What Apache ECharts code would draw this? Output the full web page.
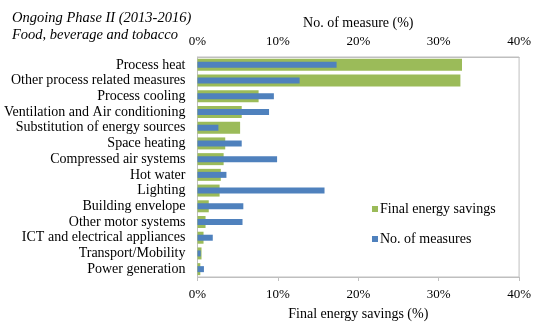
<!DOCTYPE html>
<html>
<head>
<meta charset="utf-8">
<script src="https://cdn.jsdelivr.net/npm/echarts@6/dist/echarts.min.js"></script>
<style>
  html, body { margin: 0; padding: 0; background: #fff; }
  #chart { width: 534px; height: 331px; }
</style>
</head>
<body>
<div id="chart"></div>
<script>
// Measure categories, top to bottom
const categories = [
  'Process heat',
  'Other process related measures',
  'Process cooling',
  'Ventilation and Air conditioning',
  'Substitution of energy sources',
  'Space heating',
  'Compressed air systems',
  'Hot water',
  'Lighting',
  'Building envelope',
  'Other motor systems',
  'ICT and electrical appliances',
  'Transport/Mobility',
  'Power generation'
];

// Share of final energy savings (%), bottom axis
const finalEnergySavings = [32.9, 32.7, 7.6, 5.5, 5.3, 3.45, 3.25, 2.9, 2.75, 1.4, 1.0, 0.75, 0.5, 0.35];

// Share of number of measures (%), top axis
const noOfMeasures = [17.3, 12.7, 9.5, 8.9, 2.6, 5.5, 9.9, 3.6, 15.8, 5.7, 5.6, 1.9, 0.4, 0.8];

const FONT = '"Liberation Serif", "Times New Roman", serif';
const GREEN = '#9BBB59';
const BLUE = '#4F81BD';

const chart = echarts.init(document.getElementById('chart'), null, { renderer: 'canvas' });

const valueAxisBase = {
  type: 'value',
  min: 0,
  max: 40,
  interval: 10,
  splitLine: { show: false },
  nameLocation: 'middle',
  nameTextStyle: { fontFamily: FONT, fontSize: 14, color: '#000' },
  axisLabel: { formatter: '{value}%', fontFamily: FONT, fontSize: 13, color: '#000' }
};

chart.setOption({
  animation: false,
  title: {
    text: 'Ongoing Phase II (2013-2016)\nFood, beverage and tobacco',
    left: 7,
    top: 5,
    textStyle: { fontFamily: FONT, fontSize: 14.5, fontStyle: 'italic', fontWeight: 'normal', color: '#000', lineHeight: 17 }
  },
  legend: {
    orient: 'vertical',
    left: 367,
    top: 197,
    itemWidth: 6,
    itemHeight: 6,
    itemGap: 16,
    icon: 'rect',
    data: ['Final energy savings', 'No. of measures'],
    textStyle: { fontFamily: FONT, fontSize: 14, color: '#000', padding: [0, 0, 0, -3] }
  },
  grid: {
    left: 197.5,
    right: 14,
    top: 57,
    bottom: 54,
    show: true,
    borderColor: '#BFBFBF',
    borderWidth: 1,
    containLabel: false
  },
  xAxis: [
    Object.assign({}, valueAxisBase, {
      position: 'bottom',
      name: 'Final energy savings (%)',
      nameGap: 30,
      axisLabel: Object.assign({}, valueAxisBase.axisLabel, { margin: 11 }),
      axisLine: { show: true, lineStyle: { color: '#BFBFBF' } },
      axisTick: { show: true, length: 4, lineStyle: { color: '#BFBFBF' } }
    }),
    Object.assign({}, valueAxisBase, {
      position: 'top',
      name: 'No. of measure (%)',
      nameGap: 27,
      axisLabel: Object.assign({}, valueAxisBase.axisLabel, { margin: 9 }),
      axisLine: { show: true, lineStyle: { color: '#BFBFBF' } },
      axisTick: { show: false }
    })
  ],
  yAxis: [
    {
      type: 'category',
      data: categories,
      inverse: true,
      axisLine: { show: true, lineStyle: { color: '#BFBFBF' } },
      axisTick: { show: false },
      axisLabel: { interval: 0, fontFamily: FONT, fontSize: 14, color: '#000', margin: 12 }
    },
    {
      type: 'category',
      data: categories,
      inverse: true,
      position: 'left',
      show: false
    }
  ],
  series: [
    {
      name: 'Final energy savings',
      type: 'bar',
      xAxisIndex: 0,
      yAxisIndex: 0,
      data: finalEnergySavings,
      barWidth: 12,
      itemStyle: { color: GREEN }
    },
    {
      name: 'No. of measures',
      type: 'bar',
      xAxisIndex: 1,
      yAxisIndex: 1,
      data: noOfMeasures,
      barWidth: 6,
      itemStyle: { color: BLUE }
    }
  ]
});
</script>
</body>
</html>
